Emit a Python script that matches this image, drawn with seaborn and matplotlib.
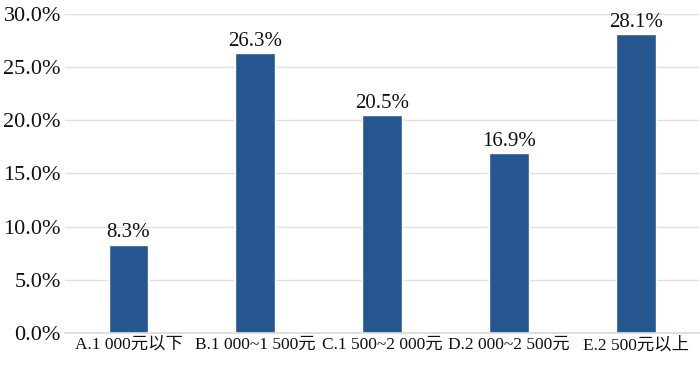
import matplotlib
matplotlib.use("Agg")
import matplotlib.pyplot as plt
import seaborn as sns
import pandas as pd
from matplotlib.ticker import FuncFormatter

categories = ["A.1 000元以下", "B.1 000~1 500元", "C.1 500~2 000元", "D.2 000~2 500元", "E.2 500元以上"]
shares = [8.3, 26.3, 20.5, 16.9, 28.1]

sns.set_theme(style="whitegrid")
plt.rcParams["font.family"] = ["Liberation Serif", "Noto Sans CJK SC"]

df = pd.DataFrame({"category": categories, "share": shares})

fig, ax = plt.subplots(figsize=(7, 3.65), dpi=100)
fig.subplots_adjust(left=0.093, right=0.999, top=0.962, bottom=0.088)

sns.barplot(data=df, x="category", y="share", color="#25568F", saturation=1, width=0.315, ax=ax)

for i, v in enumerate(shares):
    ax.text(i, v + 0.2, f"{v:.1f}%", ha="center", va="bottom", fontsize=15, color="#111111")

ax.set_ylim(0, 30)
ax.set_yticks([0, 5, 10, 15, 20, 25, 30])
ax.yaxis.set_major_formatter(FuncFormatter(lambda y, _: f"{y:.1f}%"))
ax.set_xlabel("")
ax.set_ylabel("")
ax.tick_params(axis="both", colors="#111111", length=0, pad=3)
ax.tick_params(axis="y", labelsize=16)
ax.tick_params(axis="x", labelsize=12.5)
ax.grid(axis="y", color="#e0e0e0", linewidth=1)
ax.grid(axis="x", visible=False)
for s in ["top", "right", "left"]:
    ax.spines[s].set_visible(False)
ax.spines["bottom"].set_color("#d9d9d9")
ax.set_facecolor("white")

fig.savefig("out.png", dpi=100)
